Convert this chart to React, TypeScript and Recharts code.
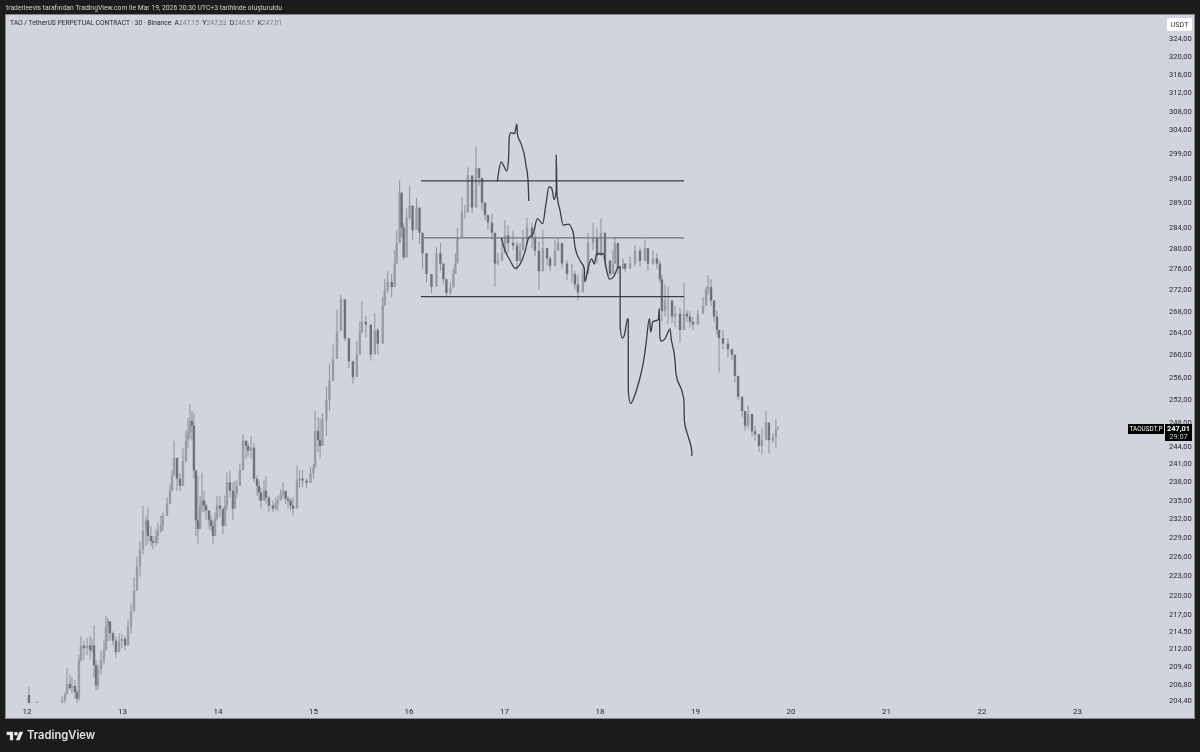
import { Bar, ComposedChart, Line, ReferenceLine, XAxis, YAxis } from "recharts";

// half-hour candles since 12 March 00:00
const times = [
  1, 3, 4.5, 5.5, 7.5, 10, 12.5, 15, 17.6, 19.1,
  20.1, 21.6, 22.6, 24.1, 25.1, 26.1, 27.1, 28.6, 30.2, 31.7,
  32.7, 33.7, 34.7, 35.7, 37.2, 38.7, 39.7, 40.7, 41.7, 43.2,
  44.7, 46.3, 47.7, 49.3, 50.8, 52.3, 53.8, 55.3, 56.8, 58.3,
  59.8, 60.8, 62.3, 63.3, 64.8, 65.8, 67.3, 68.3, 70.4, 71.9,
  72.9, 73.9, 75.4, 76.9, 78.4, 79.9, 80.9, 81.9, 82.9, 83.9,
  84.9, 85.9, 87, 88, 89, 90, 91.5, 92.5, 93.5, 94.5,
  95.5, 97, 98.5, 99.5, 100.5, 102, 103.5, 104.5, 105.5, 107,
  108.6, 110.1, 111.1, 112.6, 114.1, 115.6, 116.6, 117.6, 119.1, 120.1,
  121.6, 123.6, 125, 126.1, 127.5, 128.7, 130, 131.2, 132.5, 133.7,
  135.7, 137, 138.5, 140.5, 142.5, 144, 144.8, 146.3, 147.3, 148.5,
  150.5, 152, 153.8, 155.8, 157.8, 159.8, 161.8, 163.8, 165.8, 167.3,
  168.3, 170.3, 172.8, 174.8, 176.3, 178.8, 179.8, 181.3, 183.3, 184.8,
  185.8, 187.3, 188.3, 189.3, 190.8, 192.3, 193.8, 195.8, 197.3, 198.8,
  200.8, 203.3, 205.8, 207.8, 209.3, 210.8, 212.8, 214.3, 215.3, 216.3,
  218.6, 220.1, 221.6, 223.7, 225.7, 227.2, 228.7, 230.2, 231.7, 233.7,
  235.2, 236.7, 238.7, 240.2, 241.8, 244.3, 246.3, 247.8, 249.3, 251.3,
  253.8, 255.3, 257.3, 259.3, 261.4, 262.9, 265.4, 266.9, 268.9, 271.4,
  273.9, 275.4, 276.9, 279.4, 282, 284.5, 286.5, 288.5, 290.5, 293,
  294.5, 295.5, 297, 299.6, 300.6, 303.1, 305.6, 308.1, 310.6, 312.1,
  314.6, 316.6, 318.1, 319.1, 320.7, 322.2, 324.2, 325.7, 328.2, 330.2,
  331.7, 333.2, 334.7, 337.2, 339.8, 341.3, 342.3, 343.8, 345.3, 346.8,
  347.8, 349.8, 352.3, 354.3, 355.8, 357.4, 359.4, 360.9, 362.4, 364.4,
  365.9, 367.9, 369.4, 371.4, 372.9, 374.9, 376.4, 377.4,
];
const highs = [
  206.4, 204.1, 204.2, 204.4, 203.6, 203.4, 203, 203.4, 205, 205.6,
  209.1, 208.1, 207.8, 207.4, 205.9, 211, 213.8, 213.1, 213.5, 213.8,
  213.4, 215.4, 210.3, 209.6, 211.7, 213.1, 216.8, 216.5, 215.7, 214.5,
  213.8, 214.2, 214.1, 213.8, 216.3, 218.7, 222.7, 226, 228.4, 234.1,
  232.5, 233.8, 230.8, 229.2, 230.3, 231.3, 232.5, 233, 235.4, 237.7,
  239.9, 244.9, 240.4, 239.4, 243.7, 246.6, 248.8, 251.2, 250, 249.6,
  239.9, 239, 235.7, 239.5, 236.5, 234.4, 233, 232.5, 231.7, 233,
  235.7, 235.7, 233, 235.7, 239.5, 239.9, 237.9, 238.2, 238.2, 241,
  246, 244.9, 244.6, 245.7, 244.5, 239, 238.2, 237, 238.2, 239,
  235.7, 234.9, 235.4, 235.7, 236.8, 237.9, 236.5, 235.7, 235.4, 235.4,
  240.7, 240, 239.9, 238.5, 240.4, 241, 250, 249, 248.8, 249.6,
  254.2, 258.4, 261.8, 268.2, 271, 269.8, 261.1, 258.9, 262.5, 266.1,
  269.8, 267.1, 264.9, 267.6, 264.9, 270.6, 274, 275.6, 275, 279.6,
  283.5, 293.6, 291, 284.9, 287.8, 292.4, 287.8, 289.9, 287.8, 282.6,
  277.2, 274.4, 280.2, 281, 276, 273.4, 273.4, 276, 279, 284,
  290, 288.5, 296.2, 294.5, 300.5, 295.9, 292.4, 287.8, 285.8, 286.8,
  282, 279, 281.8, 285.5, 284.5, 283.5, 281.3, 281, 283.5, 286,
  285, 283, 281.3, 283.5, 279.6, 278.4, 281.6, 282, 279.6, 277.6,
  277, 275.6, 274.8, 277, 283, 284.9, 284, 285.8, 281, 277.6,
  279.6, 282.2, 279, 278, 277, 278.4, 280.6, 280.2, 281.6, 279,
  279.6, 279, 277.6, 274.8, 273, 272.6, 269.6, 269, 268.6, 273.3,
  268.2, 268, 267, 268.2, 270.6, 272.6, 274.8, 274, 270, 268,
  264.5, 264.5, 263, 261, 259.5, 255.8, 252.3, 250, 251, 247.4,
  247.4, 246, 247, 250, 247, 246.2, 248.5, 247.33,
];
const lows = [
  202.8, 202.6, 203.7, 203.7, 202.8, 202.2, 201.8, 202, 203.9, 204,
  205.6, 205.9, 205.5, 204.7, 204, 204.4, 210, 210.3, 211, 210.3,
  211.4, 207.7, 205.9, 205.9, 208.1, 209.6, 211.7, 213.1, 213.1, 212.4,
  210.6, 211.7, 212, 211.7, 213.1, 214.2, 217.8, 220.6, 222.8, 226.3,
  227.6, 228, 227.6, 227.1, 227.6, 228, 229.7, 230, 233.3, 234.4,
  236.5, 239.9, 236.5, 236.5, 238.2, 241.2, 243.7, 245.2, 244.9, 238.5,
  229.2, 228, 231.7, 233, 233, 231.7, 230.3, 230, 228, 229.2,
  231.7, 232.2, 229.5, 231.7, 233.3, 235.4, 231.7, 234.1, 235.4, 237.9,
  241.5, 241.9, 242.2, 241.9, 237.9, 235.7, 234.9, 233.6, 234.9, 234.4,
  233, 233, 233.3, 233.3, 234.9, 235.4, 234.4, 233.6, 233.3, 232.5,
  235.4, 237, 237.1, 237, 238, 238.5, 243.2, 243, 241.9, 247.5,
  245.7, 250, 256.5, 261, 264.3, 262.5, 257.5, 254.8, 258.4, 261.9,
  264.3, 263.1, 258.9, 263.1, 260.1, 264.9, 269.6, 271.4, 270.6, 273.4,
  279.6, 283.5, 282, 277.8, 278.2, 285.5, 281.6, 284.9, 280.8, 276,
  273.4, 271.4, 275, 275.6, 273, 270.6, 271, 273, 275, 279,
  283.5, 285.8, 289.4, 286.9, 292.2, 292.4, 287.4, 285.5, 283.5, 281.6,
  272.6, 276.6, 277.6, 279, 279, 279.6, 275.6, 278, 279.6, 280.8,
  280, 278.4, 272, 278.4, 276.6, 275.6, 277.2, 279.6, 276, 273.8,
  273.4, 272, 270, 272.6, 278.4, 279.6, 277, 278.4, 276.4, 274.6,
  275.6, 277, 275, 276, 275.4, 276.5, 276.5, 276.4, 278.4, 275.6,
  276.8, 276, 273.4, 266.1, 267, 265.6, 265.8, 265, 262.2, 266.1,
  266, 265, 264.5, 266, 267.5, 270, 271, 269, 266, 263.5,
  256.8, 261, 259.5, 259, 255, 251.9, 249, 246.6, 247, 245.7,
  244.9, 243, 242.6, 246, 242.7, 244.5, 243.8, 246.97,
];
const closes = [
  203.9, 203, 204, 204, 203.2, 202.5, 202.2, 203, 204.4, 205.3,
  206.8, 206.2, 206.5, 205.6, 204.7, 210.3, 212.4, 212, 212.4, 211.7,
  212.4, 209.5, 206.6, 208.8, 210.3, 211.7, 215.2, 216, 214.2, 213.1,
  211.4, 213.1, 213.4, 212.4, 215.2, 217.5, 220.6, 224.4, 227.1, 230,
  231.7, 229.2, 228.4, 228.1, 229.2, 230, 230.8, 232.4, 234.4, 236.5,
  239, 242, 238.5, 237.3, 241.5, 244.9, 246.3, 248.3, 247.5, 239.9,
  231.7, 230.3, 234.1, 234.9, 234.1, 233.3, 231.7, 230.8, 229.2, 232,
  234.1, 233.6, 230.8, 234.1, 237.9, 236.5, 233.6, 236.2, 237.3, 239.9,
  244.9, 244, 243.2, 243.7, 238.5, 237.3, 236.2, 234.9, 236.5, 235.4,
  234.1, 233.6, 234.4, 235, 236, 236.5, 235.2, 234.9, 234.1, 233.6,
  238.2, 238.5, 238.2, 237.8, 239.4, 240.4, 246.6, 245, 244, 248.5,
  252, 255.3, 259.2, 264.3, 270.2, 263, 258.8, 256, 260, 264,
  266, 265.5, 260, 264.5, 262, 269, 272, 273.5, 272.5, 277,
  281, 291, 284, 278.2, 286, 288.4, 283.5, 288, 283, 279,
  275, 272.6, 279, 277, 274, 271.4, 272.4, 275, 277, 282,
  287, 287, 294.5, 288, 296, 294, 289, 286.5, 285, 283,
  277, 277.6, 279, 282.5, 281, 280.5, 277.5, 279.5, 282, 284,
  282, 279.5, 275.5, 280, 278, 276.5, 279.5, 281, 277, 275,
  275, 273, 271.5, 275, 281, 282, 278.5, 283, 277.6, 275,
  277, 281, 276, 277, 276, 277, 279.5, 277.5, 280, 277,
  278, 277, 274, 268, 270, 270, 267, 267.5, 264.5, 267.5,
  267, 266, 265.5, 267.5, 269, 272, 272.5, 270, 267, 264.5,
  263, 262, 261, 260, 256.2, 252.5, 250, 247.5, 249.5, 246.5,
  246, 244, 245, 248, 245, 245.5, 246.8, 247.01,
];
const firstOpen = 205.2;

const candles = times.map((t, i) => ({
  t,
  range: [lows[i], highs[i]],
  open: i ? closes[i - 1] : firstOpen,
  close: closes[i],
}));

// the two hand-drawn strokes
const strokeOneTimes = [236.4, 237.1, 238.3, 239.8, 241.1, 242, 242.4, 243.2, 245, 246.2, 246.5, 248.2, 249.8, 250.8, 251.8, 252.2];
const strokeOnePrices = [293.3, 295.3, 297.3, 296.3, 295.4, 297.6, 302.5, 303.4, 303.2, 305.2, 303, 301.2, 299, 296.6, 293.6, 289.3];
const strokeTwoTimes = [
  238.4, 240.2, 242.8, 245.3, 247.8, 250.3, 252, 254.5, 256.5, 259.2, 260.7, 262.4, 263.7, 265, 266, 266, 266.4, 267.9, 269.5, 272.1,
  274.6, 275.4, 277.9, 280.1, 280.4, 282.1, 283.8, 285.1, 286.3, 289.6, 291.4, 292.7, 294.7, 297.2, 298.1, 298.1, 299.2, 300.2, 301.9, 302.2,
  302.2, 303.4, 305.6, 308.1, 309.8, 311.1, 312.8, 313.5, 314.5, 317.3, 317.8, 318.1, 319, 320.7, 323.2, 323.7, 325.7, 326.2, 329.6, 330.2,
  330.4, 332.4, 334.1, 334.2,
];
const strokeTwoPrices = [
  282, 279.6, 277.6, 276.1, 276.9, 279.3, 281.9, 282.9, 285.8, 284.8, 288.4, 292.2, 291.9, 289.6, 291.5, 298.7, 290.5, 287.4, 284.5, 284.7,
  282.9, 280.3, 277.6, 276.1, 273.5, 276.3, 277.9, 276.9, 278.9, 278.9, 275.6, 274, 274.4, 276.3, 276.4, 265, 263, 263.5, 266.6, 266.3,
  253.5, 251.3, 252.9, 255.9, 258.6, 261.9, 266.6, 264.1, 266, 266.4, 268.5, 263.1, 262.4, 262.9, 264.7, 263.1, 258.9, 256.5, 252.9, 251.7,
  248.3, 245.5, 243.2, 242.3,
];
const strokeOne = strokeOneTimes.map((t, i) => ({ t, v: strokeOnePrices[i] }));
const strokeTwo = strokeTwoTimes.map((t, i) => ({ t, v: strokeTwoPrices[i] }));

// range levels: start, end, price
const levelStart = 198;
const levelEnd = 330.2;
const levelTop = 293.4;
const levelMid = 282;
const levelLow = 270.7;

const priceTicks = [
  324, 320, 316, 312, 308, 304, 299, 294, 289, 284, 280, 276, 272, 268, 264, 260, 256, 252, 248,
  244, 241, 238, 235, 232, 229, 226, 223, 220, 217, 214.5, 212, 209.4, 206.8, 204.4,
];
const dayTicks = [0, 48, 96, 144, 192, 240, 288, 336, 384, 432, 480, 528];
const dayLabels = ["12", "13", "14", "15", "16", "17", "18", "19", "20", "21", "22", "23"];

const FONT = "Roboto, 'Open Sans', sans-serif";
const PANE = "#d1d4dc";
const INK = "#3c3d42";

function Candle({ x, y, width, height, payload }: any) {
  const [low, high] = payload.range;
  const at = (p: number) => y + (height * Math.log(high / p)) / Math.log(high / low);
  const cx = x + width / 2;
  const top = at(Math.max(payload.open, payload.close));
  const bottom = at(Math.min(payload.open, payload.close));
  const up = payload.close >= payload.open;
  return (
    <g>
      <rect x={cx - 0.5} y={y} width={1} height={height} fill="#8f9199" />
      <rect x={cx - 1.2} y={top} width={2.4} height={Math.max(bottom - top, 0.6)} fill={up ? "#9a9ca4" : "#6f7078"} />
    </g>
  );
}

function Label({ left, top, width, height, bg, radius, children }: any) {
  return (
    <div
      style={{
        position: "absolute",
        left,
        top,
        width,
        height,
        background: bg,
        borderRadius: radius,
        fontFamily: FONT,
        textAlign: "center",
      }}
    >
      {children}
    </div>
  );
}

export default function App() {
  return (
    <div style={{ position: "absolute", left: 0, top: 0, width: 1200, height: 752, background: "#1c1c1c", overflow: "hidden", filter: "blur(0.3px)" }}>
      <div style={{ position: "absolute", left: 6, top: 3, color: "#d4d4d4", fontFamily: FONT, fontSize: 6.8, lineHeight: "11px", whiteSpace: "nowrap" }}>
        traderleevis tarafından TradingView.com ile Mar 19, 2026 20:30 UTC+3 tarihinde oluşturuldu
      </div>
      <div style={{ position: "absolute", left: 5, top: 14, width: 1190, height: 705, background: "#85878d" }} />
      <div style={{ position: "absolute", left: 6, top: 15, width: 1188, height: 703, background: PANE }}>
        <ComposedChart width={1188} height={703} data={candles} margin={{ top: 0, right: 0, bottom: 0, left: 0 }}>
          <XAxis
            dataKey="t"
            type="number"
            domain={[-10.55, 561.4]}
            allowDataOverflow
            ticks={dayTicks}
            interval={0}
            height={15}
            axisLine={false}
            tickLine={false}
            tickMargin={-1}
            tick={{ fontSize: 8, fill: "#2a2a2e", fontFamily: FONT }}
            tickFormatter={(v: number) => dayLabels[v / 48]}
          />
          <YAxis
            orientation="right"
            scale="log"
            domain={[204.07, 329.26]}
            allowDataOverflow
            ticks={priceTicks}
            interval={0}
            width={50}
            axisLine={false}
            tickLine={false}
            tickMargin={19}
            tick={{ fontSize: 7.6, fill: "#2a2a2e", fontFamily: FONT }}
            tickFormatter={(v: number) => v.toFixed(2).replace(".", ",")}
          />
          <Bar dataKey="range" barSize={3} shape={<Candle />} isAnimationActive={false} />
          <ReferenceLine segment={[{ x: levelStart, y: levelTop }, { x: levelEnd, y: levelTop }]} stroke={INK} strokeWidth={1.3} />
          <ReferenceLine segment={[{ x: levelStart + 1.5, y: levelMid }, { x: levelEnd, y: levelMid }]} stroke="#75767d" strokeWidth={1.1} />
          <ReferenceLine segment={[{ x: levelStart, y: levelLow }, { x: levelEnd, y: levelLow }]} stroke={INK} strokeWidth={1.3} />
          <Line data={strokeOne} dataKey="v" type="monotoneX" stroke={INK} strokeWidth={1.3} dot={false} isAnimationActive={false} />
          <Line data={strokeTwo} dataKey="v" type="monotoneX" stroke={INK} strokeWidth={1.3} dot={false} isAnimationActive={false} />
        </ComposedChart>
      </div>
      <div style={{ position: "absolute", left: 10, top: 18, fontFamily: FONT, fontSize: 6.7, lineHeight: "11px", whiteSpace: "nowrap", color: "#2a2a2e" }}>
        TAO / TetherUS PERPETUAL CONTRACT · 30 · Binance&nbsp;&nbsp;A<span style={{ color: "#7d7f87" }}>247,15</span>&nbsp;&nbsp;Y
        <span style={{ color: "#7d7f87" }}>247,33</span>&nbsp;&nbsp;D<span style={{ color: "#7d7f87" }}>246,97</span>&nbsp;&nbsp;K
        <span style={{ color: "#7d7f87" }}>247,01</span>
      </div>
      <Label left={1167} top={18} width={25} height={13} bg="#ffffff" radius={2}>
        <div style={{ fontSize: 7.2, lineHeight: "13px", color: "#333" }}>USDT</div>
      </Label>
      <Label left={1128} top={424} width={36} height={10} bg="#000000">
        <div style={{ fontSize: 6.4, lineHeight: "10px", color: "#fff" }}>TAOUSDT.P</div>
      </Label>
      <Label left={1165} top={424} width={27} height={17} bg="#000000">
        <div style={{ fontSize: 7.4, lineHeight: "9px", color: "#fff", fontWeight: 700 }}>247,01</div>
        <div style={{ fontSize: 7.4, lineHeight: "8px", color: "#c8c8c8" }}>29:07</div>
      </Label>
      <svg style={{ position: "absolute", left: 6, top: 730 }} width={18} height={13} viewBox="0 0 36 28">
        <path fill="#e8e8e8" d="M14 22H7V11H0V4h14v18zM28 22h-8l7.5-18h8L28 22z" />
        <circle fill="#e8e8e8" cx="20" cy="8" r="4" />
      </svg>
      <div style={{ position: "absolute", left: 27, top: 727, fontFamily: "Inter, " + FONT, fontWeight: 600, fontSize: 11.2, lineHeight: "16px", color: "#e4e4e4" }}>
        TradingView
      </div>
    </div>
  );
}
